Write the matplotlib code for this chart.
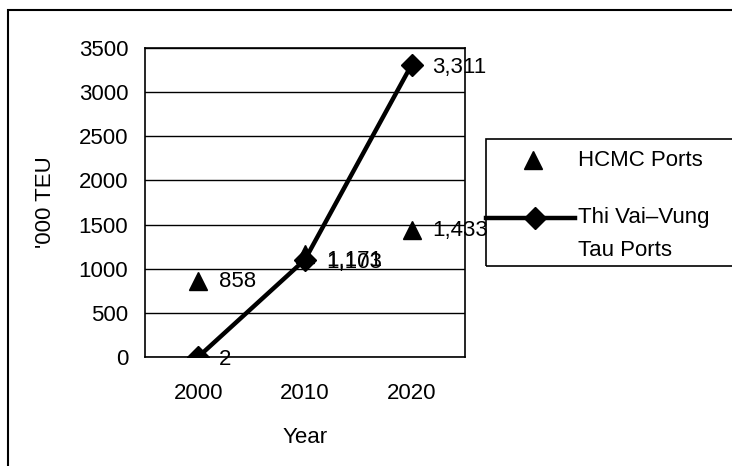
import matplotlib.pyplot as plt
from matplotlib.lines import Line2D
from matplotlib.patches import Rectangle

plt.rcParams['font.family'] = ['Liberation Sans', 'DejaVu Sans']
plt.rcParams['font.size'] = 16

# data
years = ['2000', '2010', '2020']
hcmc = [858, 1171, 1433]
thivai = [2, 1103, 3311]
hcmc_labels = ['858', '1,171', '1,433']
thivai_labels = ['2', '1,103', '3,311']

fig = plt.figure(figsize=(7.32, 4.66), dpi=100)
fig.patch.set_facecolor('white')

# outer frame of the chart
fig.patches.append(Rectangle((8 / 732, -0.05), 1.2, 1 - 10 / 466 + 0.05,
                             transform=fig.transFigure, fill=False,
                             edgecolor='black', linewidth=1.5))

ax = fig.add_axes([145 / 732, 1 - 357 / 466, 320 / 732, 309 / 466])
x = range(len(years))

ax.plot(x, hcmc, linestyle='none', marker='^', markersize=13, color='black')
ax.plot(x, thivai, marker='D', markersize=11, color='black', linewidth=3.2)

# labels sit to the right of each point (1,171 and 1,103 overlap in the source too)
hcmc_dy = [0, -5, 0]
for i in x:
    ax.annotate(hcmc_labels[i], (i, hcmc[i]), xytext=(15, hcmc_dy[i]),
                textcoords='offset points', va='center', ha='left')
    ax.annotate(thivai_labels[i], (i, thivai[i]), xytext=(15, -2),
                textcoords='offset points', va='center', ha='left')

ax.set_xlim(-0.5, 2.5)
ax.set_ylim(0, 3500)
ax.set_yticks(range(0, 3501, 500))
ax.set_xticks(list(x))
ax.set_xticklabels(years)
ax.tick_params(axis='y', length=0, pad=12)
ax.tick_params(axis='x', length=0, pad=19)
ax.yaxis.grid(True, color='black', linewidth=1)
ax.set_axisbelow(True)
for s in ax.spines.values():
    s.set_color('black')
    s.set_linewidth(1.2)

ax.set_xlabel('Year', labelpad=16)
ax.set_ylabel("'000 TEU", labelpad=16)

# legend box (runs off the right edge as in the original)
fig.patches.append(Rectangle((486 / 732, 1 - 266 / 466), 0.5, 127 / 466,
                             transform=fig.transFigure, fill=False,
                             edgecolor='black', linewidth=1.2))
fig.lines.append(Line2D([533 / 732], [1 - 160 / 466], marker='^', markersize=13,
                        color='black', linestyle='none', transform=fig.transFigure))
fig.lines.append(Line2D([486 / 732, 575 / 732], [1 - 218 / 466, 1 - 218 / 466],
                        color='black', linewidth=3.2, transform=fig.transFigure))
fig.lines.append(Line2D([535 / 732], [1 - 218 / 466], marker='D', markersize=11,
                        color='black', transform=fig.transFigure))
fig.text(578 / 732, 1 - 160 / 466, 'HCMC Ports', va='center', ha='left')
fig.text(578 / 732, 1 - 218 / 466, 'Thi Vai\u2013Vung', va='center', ha='left')
fig.text(578 / 732, 1 - 251 / 466, 'Tau Ports', va='center', ha='left')

fig.savefig('out.png', dpi=100)
